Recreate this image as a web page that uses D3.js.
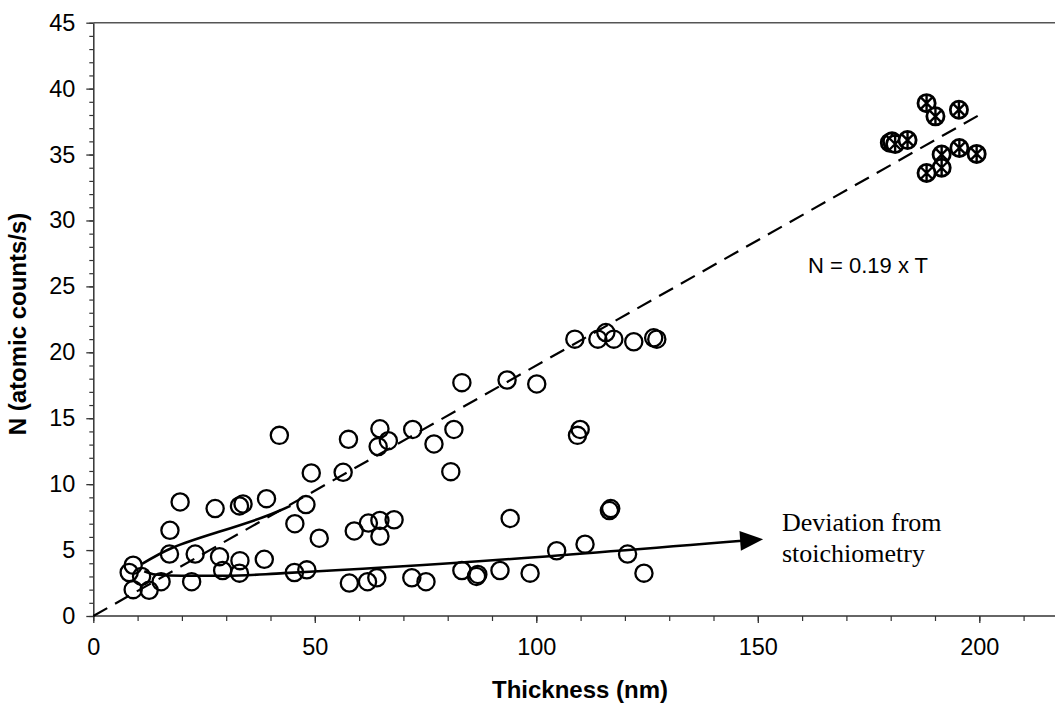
<!DOCTYPE html>
<html>
<head>
<meta charset="utf-8">
<script src="https://cdn.jsdelivr.net/npm/d3@7"></script>
<style>
  body { margin: 0; background: #fff; }
  svg { display: block; }
</style>
</head>
<body>
<svg id="chart" width="1055" height="705"></svg>
<script>
// Open-circle measurements: thickness (nm) and N (atomic counts/s)
const openX = [8.1, 9.0, 10.9, 9.0, 12.6, 15.3, 17.3, 19.6, 17.2, 22.2,
               23.0, 27.5, 28.5, 29.2, 33.0, 33.8, 33.1, 33.0, 39.1, 38.6,
               42.0, 45.5, 48.0, 49.2, 45.4, 48.2, 51.0, 56.4, 57.6, 58.9,
               57.8, 62.1, 64.7, 67.9, 64.7, 61.9, 64.0, 64.7, 66.6, 64.3,
               72.1, 76.9, 81.4, 80.7, 71.9, 75.1, 83.2, 83.2, 86.5, 86.8,
               91.8, 93.4, 94.1, 98.6, 100.1, 104.6, 108.7, 109.3, 109.9, 111.0,
               113.9, 115.7, 116.5, 116.8, 117.5, 120.6, 122.0, 124.3, 126.5, 127.2];
const openY = [3.3, 3.85, 3.0, 2.0, 1.95, 2.6, 6.5, 8.65, 4.7, 2.6,
               4.7, 8.15, 4.5, 3.45, 8.35, 8.5, 4.2, 3.25, 8.9, 4.3,
               13.7, 7.0, 8.45, 10.85, 3.3, 3.5, 5.9, 10.9, 13.4, 6.45,
               2.5, 7.05, 7.25, 7.3, 6.05, 2.6, 2.9, 14.2, 13.3, 12.85,
               14.15, 13.05, 14.15, 10.95, 2.9, 2.6, 17.7, 3.45, 3.0, 3.15,
               3.45, 17.9, 7.4, 3.25, 17.6, 4.95, 21.0, 13.7, 14.15, 5.45,
               21.0, 21.5, 8.0, 8.15, 21.0, 4.7, 20.8, 3.25, 21.1, 21.0];

// Thick-film measurements drawn as crossed circles
const crossX = [179.8, 180.3, 181.0, 183.8, 188.1, 190.1, 195.4, 191.5, 195.5, 199.4, 191.5, 188.1];
const crossY = [35.9, 36.0, 35.8, 36.1, 38.9, 37.9, 38.4, 35.0, 35.5, 35.05, 34.0, 33.6];

// Linear relation N = 0.19 x T
const fitSlope = 0.19;
const fitRange = [0, 200];

// Hand-drawn guide curves
const upperCurveX = [11, 18, 28, 38, 44.5];
const upperCurveY = [3.95, 5.2, 6.35, 7.45, 8.35];
const lowerCurveX = [11.5, 14, 20, 30, 43, 151.2];
const lowerCurveY = [3.4, 3.15, 3.05, 3.05, 3.25, 5.82];

// Axis ticks
const xTicks = [0, 50, 100, 150, 200];
const xMinorTicks = d3.range(0, 221, 10);
const yTicks = [0, 5, 10, 15, 20, 25, 30, 35, 40, 45];
const yMinorTicks = d3.range(0, 46, 1);

const svg = d3.select("#chart");
const sans = "'Liberation Sans', Arial, sans-serif";
const serif = "'Liberation Serif', 'Times New Roman', serif";

const x = d3.scaleLinear().domain([0, 220]).range([93.3, 93.3 + 220 * 4.43]);
const y = d3.scaleLinear().domain([0, 45]).range([616, 22.7]);

// Top frame line
svg.append("line")
  .attr("x1", x(0)).attr("x2", 1055)
  .attr("y1", y(45)).attr("y2", y(45))
  .attr("stroke", "#555").attr("stroke-width", 1.5);

// Minor ticks
svg.append("g")
  .attr("transform", `translate(0,${y(0)})`)
  .call(d3.axisBottom(x).tickValues(xMinorTicks).tickSize(5).tickFormat(""))
  .call(g => g.select(".domain").remove())
  .call(g => g.selectAll("line").attr("stroke", "#333").attr("stroke-width", 1.2));
svg.append("g")
  .attr("transform", `translate(${x(0)},0)`)
  .call(d3.axisLeft(y).tickValues(yMinorTicks).tickSize(4).tickFormat(""))
  .call(g => g.select(".domain").remove())
  .call(g => g.selectAll("line").attr("stroke", "#333").attr("stroke-width", 1.2));

// Major axes
const xAxis = svg.append("g")
  .attr("transform", `translate(0,${y(0)})`)
  .call(d3.axisBottom(x).tickValues(xTicks).tickSize(7).tickSizeOuter(0).tickPadding(15).tickFormat(d3.format("d")));
const yAxis = svg.append("g")
  .attr("transform", `translate(${x(0)},0)`)
  .call(d3.axisLeft(y).tickValues(yTicks).tickSize(7).tickSizeOuter(0).tickPadding(11).tickFormat(d3.format("d")));

[xAxis, yAxis].forEach(g => {
  g.select(".domain").attr("stroke", "#333").attr("stroke-width", 1.5);
  g.selectAll(".tick line").attr("stroke", "#333").attr("stroke-width", 1.3);
  g.selectAll(".tick text").attr("font-family", sans).attr("font-size", 23.5).attr("fill", "#000");
});
xAxis.select(".domain").attr("d", `M${x(0)},0H1055`);

// Axis titles
svg.append("text")
  .attr("x", 580).attr("y", 698)
  .attr("text-anchor", "middle")
  .attr("font-family", sans).attr("font-weight", "bold").attr("font-size", 24)
  .text("Thickness (nm)");
svg.append("text")
  .attr("transform", "translate(26,324) rotate(-90)")
  .attr("text-anchor", "middle")
  .attr("font-family", sans).attr("font-weight", "bold").attr("font-size", 24)
  .text("N (atomic counts/s)");

// Dashed proportional line
svg.append("line")
  .attr("x1", x(fitRange[0])).attr("y1", y(fitSlope * fitRange[0]))
  .attr("x2", x(fitRange[1])).attr("y2", y(fitSlope * fitRange[1]))
  .attr("stroke", "#000").attr("stroke-width", 2.2)
  .attr("stroke-dasharray", "16,9");

// Guide curves
const curveLine = d3.line().x(d => x(d[0])).y(d => y(d[1])).curve(d3.curveNatural);
svg.append("path")
  .attr("d", curveLine(upperCurveX.map((v, i) => [v, upperCurveY[i]])))
  .attr("fill", "none").attr("stroke", "#000").attr("stroke-width", 2.6);
const lowerPts = lowerCurveX.map((v, i) => [v, lowerCurveY[i]]);
const lowerLine = d3.line().x(d => x(d[0])).y(d => y(d[1])).curve(d3.curveMonotoneX);
svg.append("path")
  .attr("d", lowerLine(lowerPts.slice(0, -1).concat([[lowerPts[lowerPts.length - 1][0] - 4, lowerPts[lowerPts.length - 1][1] - 0.09]])))
  .attr("fill", "none").attr("stroke", "#000").attr("stroke-width", 2.6);

// Arrowhead at the end of the lower curve
{
  const tip = lowerPts[lowerPts.length - 1];
  const prev = lowerPts[lowerPts.length - 2];
  const tx = x(tip[0]), ty = y(tip[1]);
  const ang = Math.atan2(ty - y(prev[1]), tx - x(prev[0]));
  const len = 23, half = 10;
  const bx = tx - len * Math.cos(ang), by = ty - len * Math.sin(ang);
  const nx = -Math.sin(ang), ny = Math.cos(ang);
  svg.append("path")
    .attr("d", `M${tx},${ty}L${bx + nx * half},${by + ny * half}L${bx - nx * half},${by - ny * half}Z`)
    .attr("fill", "#000");
}

// Open circles
svg.append("g").selectAll("circle")
  .data(openX.map((v, i) => [v, openY[i]]))
  .join("circle")
  .attr("cx", d => x(d[0])).attr("cy", d => y(d[1]))
  .attr("r", 8.6)
  .attr("fill", "none").attr("stroke", "#000").attr("stroke-width", 2.3);

// Crossed circles (circle with asterisk)
const cross = svg.append("g").selectAll("g")
  .data(crossX.map((v, i) => [v, crossY[i]]))
  .join("g")
  .attr("transform", d => `translate(${x(d[0])},${y(d[1])})`);
cross.append("circle")
  .attr("r", 8.6).attr("fill", "#fff").attr("stroke", "#000").attr("stroke-width", 2.8);
cross.append("path")
  .attr("d", "M-6,-6L6,6M-6,6L6,-6M0,-8V8")
  .attr("stroke", "#000").attr("stroke-width", 2.4);

// Annotations
svg.append("text")
  .attr("x", 808).attr("y", 273)
  .attr("font-family", sans).attr("font-size", 22)
  .text("N = 0.19 x T");
svg.append("text")
  .attr("x", 782).attr("y", 531)
  .attr("font-family", serif).attr("font-size", 26)
  .text("Deviation from");
svg.append("text")
  .attr("x", 782).attr("y", 562)
  .attr("font-family", serif).attr("font-size", 26)
  .text("stoichiometry");
</script>
</body>
</html>
